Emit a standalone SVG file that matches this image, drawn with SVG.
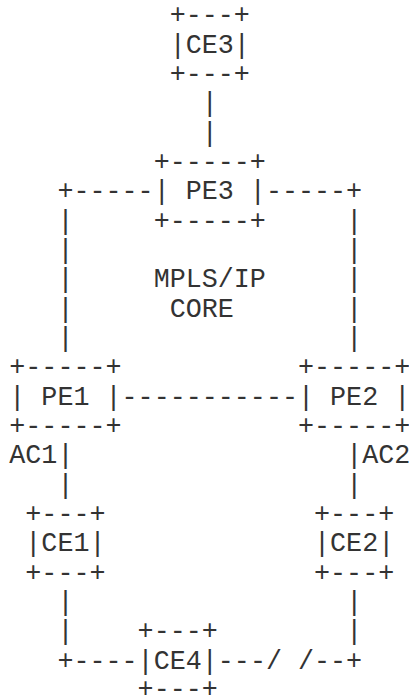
<svg xmlns="http://www.w3.org/2000/svg" width="409" height="698" viewBox="0 0 409 698">
<style>
text{font-family:"Liberation Mono","Courier New",monospace;font-size:26.73px;fill:#333;white-space:pre}
</style>
<rect width="409" height="698" fill="#fff"/>
<g id="connectors" xml:space="preserve">
<text x="201.78" y="111.39">|</text>
<text x="201.78" y="140.72">|</text>
<text x="57.42" y="199.38">+-----</text>
<text x="265.94" y="199.38">-----+</text>
<text x="57.42" y="228.71">|</text><text x="346.14" y="228.71">|</text>
<text x="57.42" y="258.04">|</text><text x="346.14" y="258.04">|</text>
<text x="57.42" y="287.37">|</text><text x="346.14" y="287.37">|</text>
<text x="57.42" y="316.7">|</text><text x="346.14" y="316.7">|</text>
<text x="57.42" y="346.03">|</text><text x="346.14" y="346.03">|</text>
<text x="121.58" y="404.69">-----------</text>
<text x="57.42" y="463.35">|</text><text x="346.14" y="463.35">|</text>
<text x="57.42" y="492.68">|</text><text x="346.14" y="492.68">|</text>
<text x="57.42" y="610">|</text><text x="346.14" y="610">|</text>
<text x="57.42" y="639.33">|</text><text x="346.14" y="639.33">|</text>
<text x="57.42" y="668.66">+----</text>
<text x="217.82" y="668.66">---/ /--+</text>
</g>
<g id="label-core">
<text x="153.66" y="287.37">MPLS/IP</text>
<text x="169.7" y="316.7">CORE</text>
</g>
<g id="label-ac1"><text x="9.3" y="463.35">AC1</text></g>
<g id="label-ac2"><text x="362.18" y="463.35">AC2</text></g>
<g id="CE3" xml:space="preserve">
<text x="169.7" y="23.4">+---+</text>
<text x="169.7" y="52.73">|CE3|</text>
<text x="169.7" y="82.06">+---+</text>
</g>
<g id="PE3" xml:space="preserve">
<text x="153.66" y="170.05">+-----+</text>
<text x="153.66" y="199.38">| PE3 |</text>
<text x="153.66" y="228.71">+-----+</text>
</g>
<g id="PE1" xml:space="preserve">
<text x="9.3" y="375.36">+-----+</text>
<text x="9.3" y="404.69">| PE1 |</text>
<text x="9.3" y="434.02">+-----+</text>
</g>
<g id="PE2" xml:space="preserve">
<text x="298.02" y="375.36">+-----+</text>
<text x="298.02" y="404.69">| PE2 |</text>
<text x="298.02" y="434.02">+-----+</text>
</g>
<g id="CE1" xml:space="preserve">
<text x="25.34" y="522.01">+---+</text>
<text x="25.34" y="551.34">|CE1|</text>
<text x="25.34" y="580.67">+---+</text>
</g>
<g id="CE2" xml:space="preserve">
<text x="314.06" y="522.01">+---+</text>
<text x="314.06" y="551.34">|CE2|</text>
<text x="314.06" y="580.67">+---+</text>
</g>
<g id="CE4" xml:space="preserve">
<text x="137.62" y="639.33">+---+</text>
<text x="137.62" y="668.66">|CE4|</text>
<text x="137.62" y="696.5">+---+</text>
</g>
</svg>
